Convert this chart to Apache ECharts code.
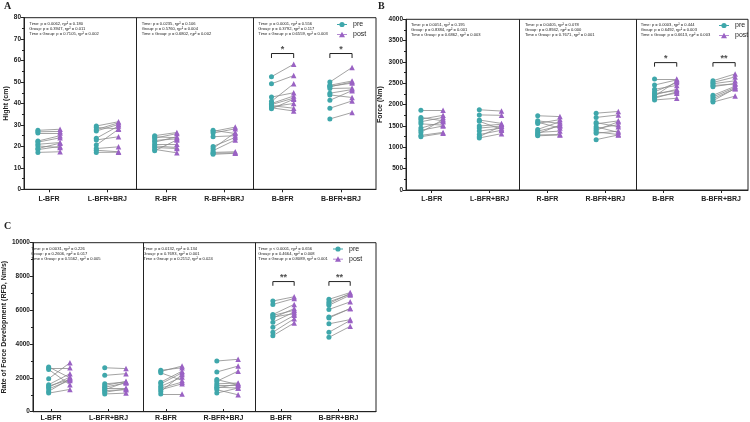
<!DOCTYPE html>
<html>
<head>
<meta charset="utf-8">
<script src="https://cdn.jsdelivr.net/npm/echarts@6/dist/echarts.min.js"></script>
<style>
  html, body { margin: 0; padding: 0; background: #fff; }
  #chart { width: 750px; height: 422px; }
</style>
</head>
<body>
<div id="chart"></div>
<script>
const groups = ['L-BFR', 'L-BFR+BRJ', 'R-BFR', 'R-BFR+BRJ', 'B-BFR', 'B-BFR+BRJ'];

// A - jump height (cm), one row per group, pre[i] pairs with post[i]
const heightPre = [
  [27.5, 26.8, 26.2, 22.5, 21.0, 20.2, 19.0, 18.5, 17.2, 22.0],
  [29.5, 28.8, 27.2, 23.8, 23.0, 20.6, 19.0, 18.2, 17.2, 27.8],
  [25.0, 24.5, 23.8, 22.8, 22.0, 21.0, 20.2, 19.5, 18.6, 18.0],
  [27.5, 27.0, 26.2, 24.5, 20.0, 19.0, 18.0, 17.2, 16.8, 16.3],
  [52.5, 49.2, 43.0, 41.0, 40.0, 39.5, 39.0, 38.5, 38.0, 37.5],
  [50.0, 48.5, 47.8, 47.0, 44.8, 44.0, 41.5, 37.8, 32.8, 48.0]
];
const heightPost = [
  [28.0, 27.0, 26.3, 25.0, 21.8, 19.5, 21.5, 20.0, 17.5, 24.0],
  [31.5, 28.2, 30.2, 29.5, 24.5, 28.0, 19.8, 17.5, 17.3, 31.0],
  [26.5, 24.0, 26.0, 23.5, 24.5, 21.0, 19.5, 19.0, 17.0, 23.0],
  [26.0, 29.0, 28.2, 25.0, 24.2, 26.5, 23.0, 17.5, 17.0, 16.8],
  [58.3, 53.0, 45.0, 49.2, 43.5, 42.5, 37.8, 40.0, 36.5, 42.0],
  [56.8, 50.5, 50.0, 47.2, 46.5, 42.8, 46.0, 41.2, 35.8, 49.5]
];
const heightStats = [
  ['Time: p = 0.0062, ηp² = 0.180', 'Group: p = 0.3947, ηp² = 0.011', 'Time x Group: p = 0.7105, ηp² = 0.002'],
  ['Time: p = 0.0235, ηp² = 0.106', 'Group: p = 0.5760, ηp² = 0.004', 'Time x Group: p = 0.6802, ηp² = 0.002'],
  ['Time: p = 0.0001, ηp² = 0.556', 'Group: p = 0.3792, ηp² = 0.117', 'Time x Group: p = 0.6559, ηp² = 0.003']
];
const heightBracket = [63.3, 61.2];
const heightStars = ['*', '*'];

// B - force (Nm)
const forcePre = [
  [1870, 1700, 1660, 1600, 1550, 1450, 1400, 1350, 1280, 1250],
  [1880, 1760, 1640, 1610, 1500, 1450, 1380, 1300, 1250, 1220],
  [1740, 1620, 1590, 1560, 1420, 1380, 1350, 1320, 1290, 1270],
  [1800, 1700, 1580, 1550, 1480, 1440, 1400, 1360, 1330, 1180],
  [2600, 2460, 2360, 2300, 2260, 2230, 2200, 2180, 2150, 2110],
  [2560, 2520, 2490, 2450, 2420, 2220, 2180, 2140, 2090, 2060]
];
const forcePost = [
  [1870, 1620, 1750, 1700, 1520, 1600, 1500, 1650, 1350, 1330],
  [1850, 1750, 1560, 1420, 1540, 1500, 1450, 1400, 1500, 1320],
  [1720, 1560, 1450, 1650, 1600, 1500, 1380, 1520, 1300, 1290],
  [1840, 1760, 1480, 1620, 1350, 1530, 1600, 1300, 1380, 1290],
  [2600, 2580, 2450, 2520, 2330, 2360, 2550, 2270, 2300, 2150],
  [2720, 2650, 2560, 2480, 2500, 2430, 2400, 2370, 2380, 2200]
];
const forceStats = [
  ['Time: p = 0.0051, ηp² = 0.195', 'Group: p = 0.8384, ηp² = 0.001', 'Time x Group: p = 0.6862, ηp² = 0.003'],
  ['Time: p = 0.0405, ηp² = 0.078', 'Group: p = 0.8942, ηp² = 0.000', 'Time x Group: p = 0.7671, ηp² = 0.001'],
  ['Time: p = 0.0003, ηp² = 0.444', 'Group: p = 0.6492, ηp² = 0.003', 'Time x Group: p = 0.6613, ηp² = 0.003']
];
const forceBracket = [2985, 2890];
const forceStars = ['*', '**'];

// C - rate of force development (Nm/s)
const rfdPre = [
  [2650, 2580, 2500, 1950, 1600, 1520, 1450, 1350, 1200, 1100],
  [2600, 2150, 1650, 1550, 1450, 1400, 1300, 1250, 1150, 1050],
  [2450, 2380, 2300, 1750, 1650, 1500, 1400, 1300, 1200, 1050],
  [3000, 2350, 1900, 1800, 1650, 1550, 1450, 1400, 1300, 1100],
  [6550, 6350, 5750, 5700, 5600, 5550, 5300, 5000, 4700, 4500],
  [6650, 6500, 6300, 6050, 5600, 5550, 5200, 4700, 4400, 6400]
];
const rfdPost = [
  [2000, 2600, 1600, 2900, 2250, 1900, 2050, 1850, 1950, 1320],
  [2550, 2250, 1750, 1800, 1700, 1400, 1750, 1300, 1350, 1100],
  [2600, 2700, 1850, 2400, 2300, 2050, 1750, 1650, 2200, 1050],
  [3100, 2700, 1600, 2400, 1700, 1550, 1400, 1650, 1000, 1400],
  [6800, 6700, 6350, 6000, 5800, 6100, 5900, 5700, 5500, 5250],
  [7050, 6950, 6900, 6500, 6100, 6100, 5450, 5400, 5050, 7000]
];
const rfdStats = [
  ['Time: p = 0.0031, ηp² = 0.226', 'Group: p = 0.2606, ηp² = 0.017', 'Time x Group: p = 0.5562, ηp² = 0.005'],
  ['Time: p = 0.0132, ηp² = 0.134', 'Group: p = 0.7693, ηp² = 0.001', 'Time x Group: p = 0.2152, ηp² = 0.024'],
  ['Time: p < 0.0001, ηp² = 0.656', 'Group: p = 0.4664, ηp² = 0.008', 'Time x Group: p = 0.8089, ηp² = 0.001']
];
const rfdBracket = [7700, 7450];
const rfdStars = ['**', '**'];

const preColor = '#3fa7ab';
const postColor = '#9a62c4';
const ink = '#222';
const off = 0.19; // pre/post shift from group centre, in x units

const preIcon = 'path://M0,4.6H10V5.4H0Z M5,2.4A2.6,2.6,0,1,1,5,7.6A2.6,2.6,0,1,1,5,2.4Z';
const postIcon = 'path://M0,4.6H10V5.4H0Z M5,2L8,7.6H2Z';

const panels = [
  { letter: 'A', lx: 4, ly: 1, left: 24, top: 17.7, width: 352, height: 171.6, xMin: 0.072, xMax: 6.1,
    labLeft: 19.8, labWidth: 350.4, yMax: 80, yStep: 10, name: 'Hight (cm)', nameGap: 14,
    pre: heightPre, post: heightPost, stats: heightStats, bracket: heightBracket, stars: heightStars,
    statX: [29.3, 141.7, 258.3], statY: 21.5, legLeft: 337, legTop: 21 },
  { letter: 'B', lx: 378, ly: 1, left: 406, top: 19.3, width: 342, height: 170.7, xMin: 0.055, xMax: 5.91,
    labLeft: 402.8, labWidth: 350.4, yMax: 4000, yStep: 500, name: 'Force (Nm)', nameGap: 22,
    pre: forcePre, post: forcePost, stats: forceStats, bracket: forceBracket, stars: forceStars,
    statX: [411, 525, 640.7], statY: 22.5, legLeft: 719, legTop: 22 },
  { letter: 'C', lx: 4, ly: 221, left: 24, top: 242.7, width: 352, height: 169, xMin: 0.03, xMax: 6.15,
    labLeft: 22.25, labWidth: 345, yMax: 10000, yStep: 2000, name: 'Rate of Force Development (RFD, Nm/s)', nameGap: 17,
    pre: rfdPre, post: rfdPost, stats: rfdStats, bracket: rfdBracket, stars: rfdStars,
    statX: [31, 143.3, 258.3], statY: 246, legLeft: 333, legTop: 245.5 }
];

const option = {
  animation: false,
  backgroundColor: '#fff',
  grid: [], xAxis: [], yAxis: [], series: [], legend: [], graphic: []
};

panels.forEach((p, k) => {
  const g = 2 * k;
  option.grid.push({ left: p.left, top: p.top, width: p.width, height: p.height, show: true, borderColor: ink, borderWidth: 1 });
  option.grid.push({ left: p.labLeft, top: p.top, width: p.labWidth, height: p.height, show: false });

  option.xAxis.push({
    type: 'value', gridIndex: g, min: p.xMin, max: p.xMax,
    axisLine: { show: true, lineStyle: { color: ink, width: 1 } },
    axisTick: { show: false }, axisLabel: { show: false }, splitLine: { show: false }
  });
  option.xAxis.push({
    type: 'category', gridIndex: g + 1, data: groups,
    axisLine: { show: false },
    axisTick: { show: true, alignWithLabel: true, length: 3, lineStyle: { color: ink } },
    axisLabel: { fontSize: 7, fontWeight: 'bold', color: ink, margin: 6, fontFamily: 'Liberation Sans' }
  });
  option.yAxis.push({
    type: 'value', gridIndex: g, min: 0, max: p.yMax, interval: p.yStep,
    name: p.name, nameLocation: 'middle', nameGap: p.nameGap,
    nameTextStyle: { fontSize: 7, fontWeight: 'bold', color: ink, fontFamily: 'Liberation Sans' },
    axisLine: { show: true, lineStyle: { color: ink, width: 1 } },
    axisTick: { show: true, length: 3, lineStyle: { color: ink } },
    minorTick: { show: true, splitNumber: 2, length: 2, lineStyle: { color: ink } },
    axisLabel: { fontSize: 6.5, fontWeight: 'bold', color: ink, margin: 3, fontFamily: 'Liberation Sans',
                 formatter: v => String(v) },
    splitLine: { show: false }
  });
  option.yAxis.push({ type: 'value', gridIndex: g + 1, show: false, min: 0, max: p.yMax });

  const pairs = [], preXY = [], postXY = [];
  p.pre.forEach((vals, i) => {
    const c = i + 0.5;
    vals.forEach((v, j) => {
      const w = p.post[i][j];
      pairs.push({ coords: [[c - off, v], [c + off, w]] });
      preXY.push([c - off, v]);
      postXY.push([c + off, w]);
    });
  });

  option.series.push({
    type: 'lines', coordinateSystem: 'cartesian2d', xAxisIndex: g, yAxisIndex: g,
    data: pairs, silent: true, z: 2,
    lineStyle: { color: '#8c8c8c', width: 0.8, opacity: 1 },
    markLine: {
      silent: true, symbol: ['none', 'none'], label: { show: false },
      lineStyle: { color: ink, type: 'solid', width: 1 },
      data: [{ xAxis: 2 }, { xAxis: 4 }]
    }
  });
  option.series.push({
    name: 'pre', type: 'scatter', xAxisIndex: g, yAxisIndex: g, data: preXY, z: 3,
    symbol: 'circle', symbolSize: 5, itemStyle: { color: preColor, opacity: 1 }
  });
  option.series.push({
    name: 'post', type: 'scatter', xAxisIndex: g, yAxisIndex: g, data: postXY, z: 4,
    symbol: 'triangle', symbolSize: 5.5, itemStyle: { color: postColor, opacity: 1 }
  });

  // significance brackets over the two bilateral groups
  const [top, leg] = p.bracket;
  const brackets = [4, 5].map(i => ({
    coords: [[i + 0.5 - off, leg], [i + 0.5 - off, top], [i + 0.5 + off, top], [i + 0.5 + off, leg]]
  }));
  option.series.push({
    type: 'lines', coordinateSystem: 'cartesian2d', polyline: true, xAxisIndex: g, yAxisIndex: g,
    data: brackets, silent: true, lineStyle: { color: ink, width: 1, opacity: 1 }
  });
  option.series.push({
    type: 'scatter', xAxisIndex: g, yAxisIndex: g, symbolSize: 0, silent: true,
    data: [4, 5].map((i, n) => ({ value: [i + 0.5, top], star: p.stars[n] })),
    label: {
      show: true, position: 'top', distance: 0, color: ink, fontSize: 9, fontWeight: 'bold',
      formatter: d => d.data.star
    }
  });

  option.legend.push({
    left: p.legLeft, top: p.legTop, orient: 'vertical', itemGap: 3, padding: 0,
    itemWidth: 10, itemHeight: 6, selectedMode: false,
    textStyle: { fontSize: 7, color: ink, fontFamily: 'Liberation Sans', padding: [0, 0, 0, 1] },
    data: [{ name: 'pre', icon: preIcon, itemStyle: { color: preColor } },
           { name: 'post', icon: postIcon, itemStyle: { color: postColor } }]
  });

  p.stats.forEach((lines, s) => {
    option.graphic.push({
      type: 'text', left: p.statX[s], top: p.statY, silent: true,
      style: { text: lines.join('\n'), font: '4.1px "Liberation Sans"', lineHeight: 5, fill: ink }
    });
  });
  option.graphic.push({
    type: 'text', left: p.lx, top: p.ly,
    style: { text: p.letter, font: 'bold 10px "Liberation Serif"', fill: ink }
  });
});

const chart = echarts.init(document.getElementById('chart'));
chart.setOption(option);
</script>
</body>
</html>
